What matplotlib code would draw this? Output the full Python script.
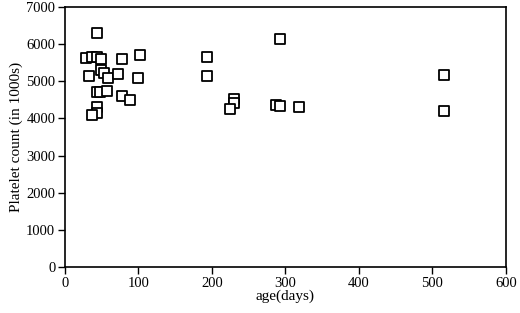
import matplotlib
matplotlib.use("Agg")
import matplotlib.pyplot as plt

# datos: edad (dias) y recuento de plaquetas (en miles)
age_days = [43, 28, 37, 43, 49, 77, 102, 33, 49, 53, 58, 72, 100,
            44, 47, 57, 77, 88, 44, 43, 37,
            293, 193, 193, 230, 230, 224, 287, 293, 319,
            516, 516]
platelets = [6300, 5620, 5645, 5645, 5610, 5590, 5710, 5140, 5310, 5230, 5080, 5200, 5080,
             4700, 4720, 4740, 4595, 4495, 4315, 4140, 4085,
             6140, 5645, 5150, 4515, 4410, 4245, 4370, 4335, 4315,
             5170, 4190]

x_ticks = [0, 100, 200, 300, 400, 500, 600]
y_ticks = [0, 1000, 2000, 3000, 4000, 5000, 6000, 7000]

plt.rcParams['font.family'] = ['Liberation Serif', 'DejaVu Serif']

fig = plt.figure(figsize=(5.2, 3.13), dpi=100)
ax = fig.add_axes([0.125, 0.147, 0.848, 0.831])

ax.scatter(age_days, platelets, marker='s', s=46, facecolors='white',
           edgecolors='black', linewidths=1.3, zorder=3)

ax.set_xlim(0, 600)
ax.set_ylim(0, 7000)
ax.set_xticks(x_ticks)
ax.set_yticks(y_ticks)
ax.tick_params(direction='out', length=5, width=1, labelsize=10.5, pad=2)
for sp in ax.spines.values():
    sp.set_linewidth(1.2)

ax.set_xlabel("age(days)", fontsize=11, labelpad=0)
ax.set_ylabel("Platelet count (in 1000s)", fontsize=11, labelpad=2)

fig.savefig("out.png", dpi=100)
